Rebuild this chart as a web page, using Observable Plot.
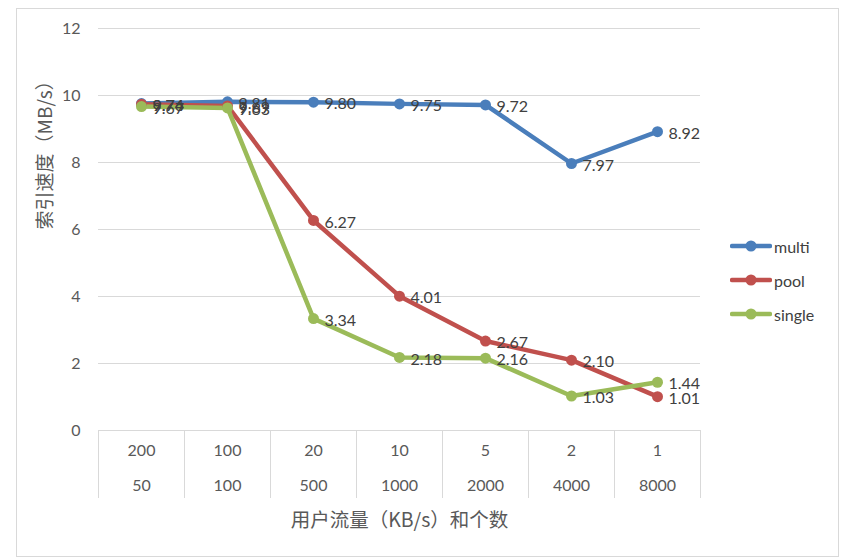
<!DOCTYPE html>
<html>
<head>
<meta charset="utf-8">
<script src="https://cdn.jsdelivr.net/npm/d3@7"></script>
<script src="https://cdn.jsdelivr.net/npm/@observablehq/plot@0.6"></script>
<style>
  body { margin: 0; background: #fff; }
  #wrap { position: relative; width: 841px; height: 560px; overflow: hidden; font-family: Lato, "Noto Sans CJK SC", sans-serif; }
  #frame { position: absolute; left: 16px; top: 8px; width: 821px; height: 547px; border: 1px solid #d9d9d9; pointer-events: none; }
  #legend { position: absolute; left: 730px; top: 229px; font-size: 16px; color: #404040; }
  .item { display: flex; align-items: center; height: 34px; }
  .item svg { margin-right: 2px; }
</style>
</head>
<body>
<div id="wrap">
  <div id="frame"></div>
  <div id="chart"></div>
  <div id="legend"></div>
</div>
<script>
const rateLabels = ["200", "100", "20", "10", "5", "2", "1"];
const countLabels = ["50", "100", "500", "1000", "2000", "4000", "8000"];
const multi = [9.76, 9.81, 9.80, 9.75, 9.72, 7.97, 8.92];
const pool = [9.74, 9.69, 6.27, 4.01, 2.67, 2.10, 1.01];
const single = [9.67, 9.63, 3.34, 2.18, 2.16, 1.03, 1.44];
const yTicks = [0, 2, 4, 6, 8, 10, 12];

const seriesNames = ["multi", "pool", "single"];
const seriesValues = [multi, pool, single];
const colors = ["#4a7ebb", "#c0504d", "#9bbb59"];

const data = [];
seriesNames.forEach((s, k) => seriesValues[k].forEach((v, i) => data.push({series: s, i, v})));
const centers = rateLabels.map((_, i) => i + 0.5);
const bounds = d3.range(0, rateLabels.length + 1);

const chart = Plot.plot({
  width: 841,
  height: 560,
  marginLeft: 98,
  marginRight: 141,
  marginTop: 28,
  marginBottom: 130,
  style: {fontFamily: "Lato, 'Noto Sans CJK SC', sans-serif", fontSize: "16px", color: "#595959", background: "transparent"},
  x: {domain: [0, rateLabels.length], axis: null},
  y: {domain: [0, 12], axis: null},
  color: {domain: seriesNames, range: colors},
  marks: [
    Plot.gridY(yTicks, {stroke: "#d9d9d9", strokeOpacity: 1}),
    Plot.axisY(yTicks, {tickSize: 0, tickPadding: 18, fill: "#595959", fontSize: 16, label: null}),
    Plot.axisX(bounds, {tickSize: 68, tickFormat: () => "", stroke: "#d9d9d9", label: null}),
    Plot.ruleY([0], {stroke: "#d9d9d9"}),
    Plot.axisX(centers, {tickSize: 0, tickPadding: 14, tickFormat: d => rateLabels[Math.floor(d)], fill: "#595959", fontSize: 16, label: null}),
    Plot.axisX(centers, {tickSize: 0, tickPadding: 49, tickFormat: d => countLabels[Math.floor(d)], fill: "#595959", fontSize: 16, label: null}),
    Plot.lineY(data, {x: d => d.i + 0.5, y: "v", z: "series", stroke: "series", strokeWidth: 4.5, strokeLinejoin: "round"}),
    Plot.dot(data, {x: d => d.i + 0.5, y: "v", fill: "series", r: 5.5}),
    Plot.text(data, {x: d => d.i + 0.5, y: "v", text: d => d.v.toFixed(2), dx: 11, dy: 2, textAnchor: "start", fill: "#404040", fontSize: 16}),
    Plot.text(["用户流量（KB/s）和个数"], {frameAnchor: "bottom", dy: 96, fontSize: 19.5, fill: "#595959", fontFamily: "'Noto Sans CJK SC', sans-serif"}),
    Plot.text(["索引速度（MB/s）"], {frameAnchor: "left", dx: -53, rotate: -90, fontSize: 19, fill: "#595959", fontFamily: "'Noto Sans CJK SC', sans-serif"})
  ]
});
document.getElementById("chart").appendChild(chart);

const legend = document.getElementById("legend");
seriesNames.forEach((s, k) => {
  const item = document.createElement("div");
  item.className = "item";
  item.innerHTML = `<svg width="42" height="14"><line x1="2" y1="7" x2="40" y2="7" stroke="${colors[k]}" stroke-width="4.5" stroke-linecap="round"/><circle cx="21" cy="7" r="5.5" fill="${colors[k]}"/></svg><span>${s}</span>`;
  legend.appendChild(item);
});
</script>
</body>
</html>
